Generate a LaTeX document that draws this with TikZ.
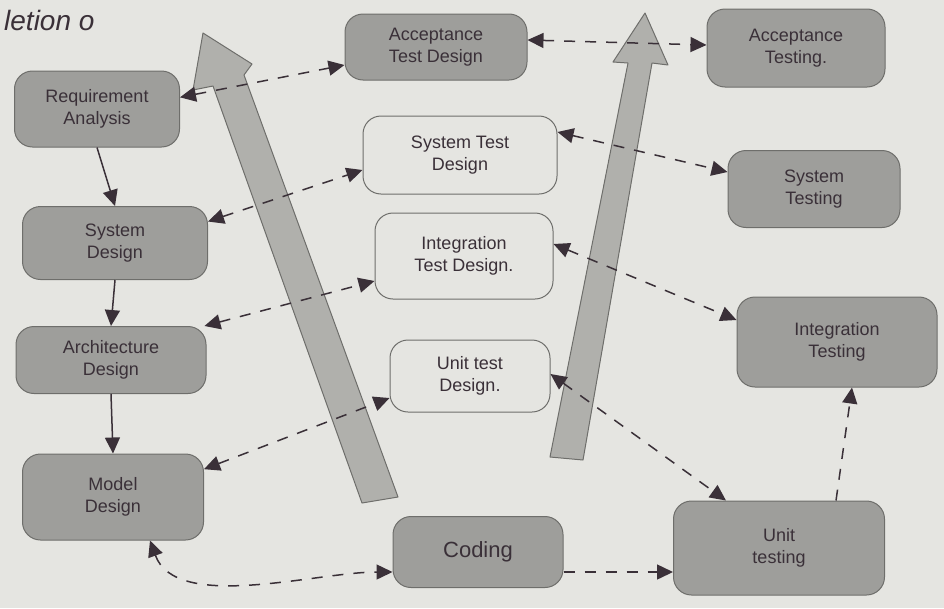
\documentclass[tikz,border=0pt]{standalone}
\usepackage{fontspec}
\setmainfont{Liberation Sans}
\usetikzlibrary{positioning,arrows.meta,calc}
\definecolor{paper}   {HTML}{E5E5E1}
\definecolor{pencil}  {HTML}{6E6E6B}
\definecolor{shade}   {HTML}{9E9E9B}
\definecolor{ink}     {HTML}{3A3038}
\definecolor{bigfill} {HTML}{B0B0AC}
\tikzset{
  % --- nodes
  phase/.style = {rounded corners=18pt, draw=pencil, fill=shade, align=center,
                  line width=1pt, inner sep=2pt, text=ink,
                  font=\fontsize{18}{22}\selectfont},
  testd/.style = {phase, fill=paper},
  % --- edges
  flow/.style  = {draw=ink, line width=1.5pt, -{Triangle[length=16pt,width=15pt]}},
  link/.style  = {draw=ink, line width=1.5pt, dash pattern=on 11pt off 10pt,
                  {Triangle[length=16pt,width=15pt]}-{Triangle[length=16pt,width=15pt]}},
  linkone/.style = {link, -{Triangle[length=16pt,width=15pt]}},
  big/.style   = {fill=bigfill, draw=pencil, line width=1pt, line join=round},
}
\begin{document}
\begin{tikzpicture}[x=1pt,y=-1pt]
  \useasboundingbox (0,0) rectangle (944,608);
  \clip (0,0) rectangle (944,608);
  \fill[paper] (0,0) rectangle (944,608);
  \node[anchor=base west, text=ink, font=\fontsize{28}{30}\selectfont\itshape, inner sep=0pt]
    (heading) at (4,30) {letion o};

  % --- the two wide upward arrows
  \filldraw[big] (203,33) -- (252,64) -- (244,75) -- (398,497) -- (362,503)
    -- (213,86) -- (193,90) -- cycle;
  \filldraw[big] (645,13) -- (668,65) -- (652,63) -- (583,460) -- (550,457)
    -- (628,63) -- (613,62) -- cycle;

  % --- left column
  \node[phase, minimum width=165pt, minimum height=76pt] (req)  at (97,109)  {Requirement\\Analysis};
  \node[phase, minimum width=185pt, minimum height=73pt] (sysd) at (115,243) {System\\Design};
  \node[phase, minimum width=190pt, minimum height=67pt] (arch) at (111,360) {Architecture\\Design};
  \node[phase, minimum width=181pt, minimum height=86pt] (modd) at (113,497) {Model\\Design};

  % --- middle column
  \node[phase, minimum width=182pt, minimum height=66pt] (acctd) at (436,47)  {Acceptance\\Test Design};
  \node[testd, minimum width=194pt, minimum height=78pt] (systd) at (460,155) {System Test\\Design};
  \node[testd, minimum width=178pt, minimum height=86pt] (inttd) at (464,256) {Integration\\Test Design.};
  \node[testd, minimum width=160pt, minimum height=72pt] (unittd) at (470,376) {Unit test\\Design.};
  \node[phase, minimum width=170pt, minimum height=71pt, font=\fontsize{22}{26}\selectfont]
    (code) at (478,552) {Coding};

  % --- right column
  \node[phase, minimum width=178pt, minimum height=78pt] (acct) at (796,48)  {Acceptance\\Testing.};
  \node[phase, minimum width=172pt, minimum height=77pt] (syst) at (814,189) {System\\Testing};
  \node[phase, minimum width=200pt, minimum height=90pt] (intt) at (837,342) {Integration\\Testing};
  \node[phase, minimum width=211pt, minimum height=94pt] (unitt) at (779,548) {Unit\\testing};

  % --- design steps
  \draw[flow] (req.south)  -- (sysd.north);
  \draw[flow] (sysd.south) -- (arch.north);
  \draw[flow] (arch.south) -- (modd.north);

  % --- design <-> test design
  \draw[link] (req.8)   -- (acctd.west|-0,65);
  \draw[link] (sysd.13) -- (systd.west|-0,170);
  \draw[link] (arch.20) -- (inttd.west|-0,281);
  \draw[link] (modd.17) -- (unittd.west|-0,398);

  % --- test design <-> testing
  \draw[link] (acctd.east|-0,40)  -- (acct.west|-0,45);
  \draw[link] (systd.east|-0,132) -- (syst.west|-0,172);
  \draw[link] (inttd.east|-0,244) -- (intt.west|-0,320);
  \draw[link] (unittd.east|-0,374) -- (unitt.north-|726,0);

  % --- bottom of the V
  \draw[link] (modd.south-|150,0) to[out=-70,in=180,looseness=0.8] (code.west|-0,572);
  \draw[linkone] (code.east|-0,572) -- (unitt.west|-0,572);
  \draw[linkone] (unitt.north-|836,0) -- (intt.south-|852,0);
\end{tikzpicture}
\end{document}
